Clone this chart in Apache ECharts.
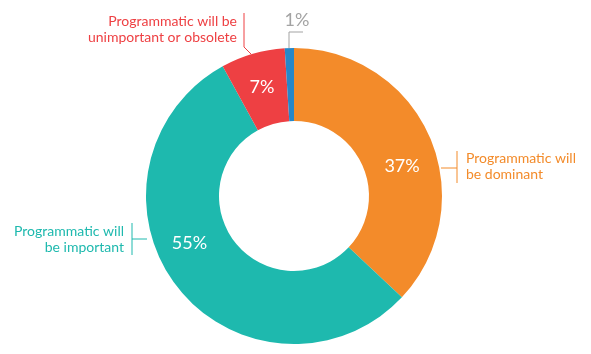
<!DOCTYPE html>
<html>
<head>
<meta charset="utf-8">
<script src="https://cdn.jsdelivr.net/npm/echarts@6/dist/echarts.min.js"></script>
<style>
    html, body { margin: 0; padding: 0; background: #fff; }
    #chart { width: 591px; height: 354px; }
</style>
</head>
<body>
<div id="chart"></div>
<script>
    // data
    const categories = ['Programmatic will be dominant', 'Programmatic will be important', 'Programmatic will be unimportant or obsolete', 'Other'];
    const shares = [37, 55, 7, 1];
    const nameLabels = ['Programmatic will\nbe dominant', 'Programmatic will\nbe important', 'Programmatic will be\nunimportant or obsolete', ''];
    const colors = ['#F38B2A', '#1EB9AE', '#EE4043', '#2687C8'];

    // layout
    const cx = 294, cy = 196;
    const pctShift = [[3, 16], [-14, -23], [0, 1], [0, 0]];
    const namePos = [
        { x: 466, y: 166, align: 'left' },
        { x: 124, y: 239, align: 'right' },
        { x: 237, y: 29, align: 'right' },
        null
    ];
    const leaderLines = [
        { pts: [[441, 168], [457, 168]], c: colors[0] },
        { pts: [[457, 151], [457, 183]], c: colors[0] },
        { pts: [[147, 239], [132, 239]], c: colors[1] },
        { pts: [[132, 223], [132, 255]], c: colors[1] },
        { pts: [[251, 54], [244, 47], [244, 13]], c: colors[2] },
        { pts: [[289, 48], [289, 32], [303, 32]], c: '#A3A3A3' }
    ];

    const chart = echarts.init(document.getElementById('chart'));

    const mainData = categories.map(function (n, i) {
        const item = { name: n, value: shares[i], itemStyle: { color: colors[i] } };
        if (i === 3) {
            item.label = { position: 'outside', color: '#A3A3A3' };
            item.labelLine = { show: false };
        }
        return item;
    });

    const nameData = categories.map(function (n, i) {
        return {
            name: n,
            value: shares[i],
            label: { color: colors[i], formatter: nameLabels[i], show: nameLabels[i] !== '' }
        };
    });

    chart.setOption({
        animation: false,
        graphic: leaderLines.map(function (l) {
            return {
                type: 'polyline',
                shape: { points: l.pts },
                style: { stroke: l.c, lineWidth: 1, fill: null },
                silent: true
            };
        }),
        series: [
            {
                type: 'pie',
                center: [cx, cy],
                radius: [75, 148],
                startAngle: 90,
                clockwise: true,
                avoidLabelOverlap: false,
                silent: true,
                label: {
                    show: true,
                    position: 'inside',
                    formatter: '{c}%',
                    color: '#fff',
                    fontFamily: 'Lato',
                    fontSize: 18
                },
                labelLine: { show: false },
                labelLayout: function (p) {
                    const i = p.dataIndex;
                    if (i === 3) {
                        return { x: 297, y: 20, align: 'center', verticalAlign: 'middle' };
                    }
                    return { dx: pctShift[i][0], dy: pctShift[i][1] };
                },
                data: mainData
            },
            {
                type: 'pie',
                center: [cx, cy],
                radius: [75, 148],
                startAngle: 90,
                silent: true,
                avoidLabelOverlap: false,
                itemStyle: { color: 'rgba(0,0,0,0)' },
                label: {
                    position: 'outside',
                    fontFamily: 'Lato',
                    fontSize: 14,
                    lineHeight: 16
                },
                labelLine: { show: false },
                labelLayout: function (p) {
                    const pos = namePos[p.dataIndex];
                    if (!pos) return {};
                    return { x: pos.x, y: pos.y, align: pos.align, verticalAlign: 'middle' };
                },
                data: nameData
            }
        ]
    });
</script>
</body>
</html>
